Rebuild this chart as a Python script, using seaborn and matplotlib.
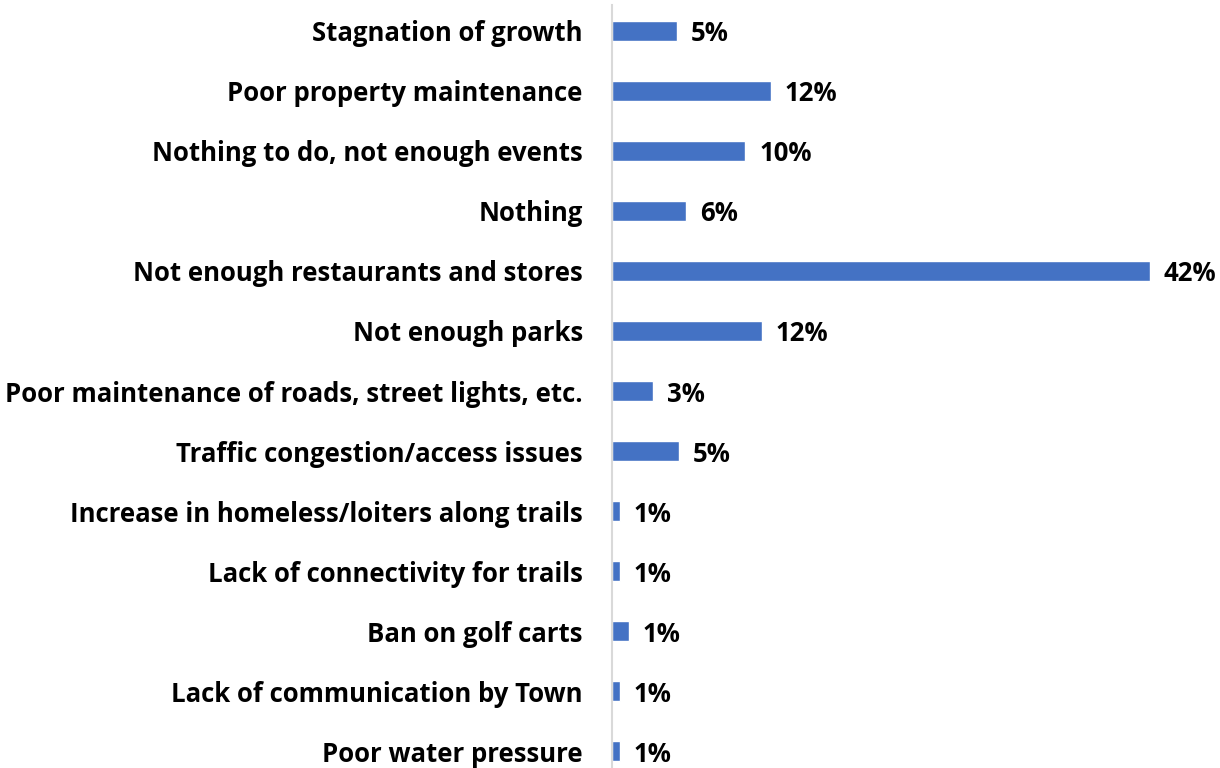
import matplotlib
matplotlib.use("Agg")
import matplotlib.pyplot as plt
import seaborn as sns
import pandas as pd

categories = [
    "Stagnation of growth",
    "Poor property maintenance",
    "Nothing to do, not enough events",
    "Nothing",
    "Not enough restaurants and stores",
    "Not enough parks",
    "Poor maintenance of roads, street lights, etc.",
    "Traffic congestion/access issues",
    "Increase in homeless/loiters along trails",
    "Lack of connectivity for trails",
    "Ban on golf carts",
    "Lack of communication by Town",
    "Poor water pressure",
]
shares = [5.1, 12.4, 10.4, 5.8, 42.0, 11.7, 3.2, 5.2, 0.6, 0.6, 1.3, 0.6, 0.6]

sns.set_style("white")
plt.rcParams["font.family"] = ["Open Sans", "DejaVu Sans"]

W, H = 1220, 768
FS = 18.5
fig = plt.figure(figsize=(W / 100, H / 100), dpi=100)
ax = fig.add_axes([612 / W, 0, (1150 - 612) / W, 763 / H])

df = pd.DataFrame({"category": categories, "share": shares})
sns.barplot(data=df, x="share", y="category", color="#4472C4",
            saturation=1, width=0.34, ax=ax)

ax.set_xlim(0, 42)
ax.set_ylim(12.283, -0.433)
for side in ["top", "right", "bottom"]:
    ax.spines[side].set_visible(False)
ax.spines["left"].set_color("#d9d9d9")
ax.spines["left"].set_linewidth(1.5)
ax.set_xticks([])
ax.set_xlabel("")
ax.set_ylabel("")
ax.tick_params(axis="y", length=0, pad=21, labelsize=FS)
for lbl in ax.get_yticklabels():
    lbl.set_fontweight("bold")
    lbl.set_color("black")
    lbl.set_verticalalignment("center_baseline")

for i, v in enumerate(shares):
    ax.annotate(f"{v:.0f}%", (v, i), xytext=(10, 0), textcoords="offset points",
                va="center_baseline", ha="left", fontsize=FS, fontweight="bold",
                color="black", annotation_clip=False)

fig.savefig("out.png", dpi=100)
